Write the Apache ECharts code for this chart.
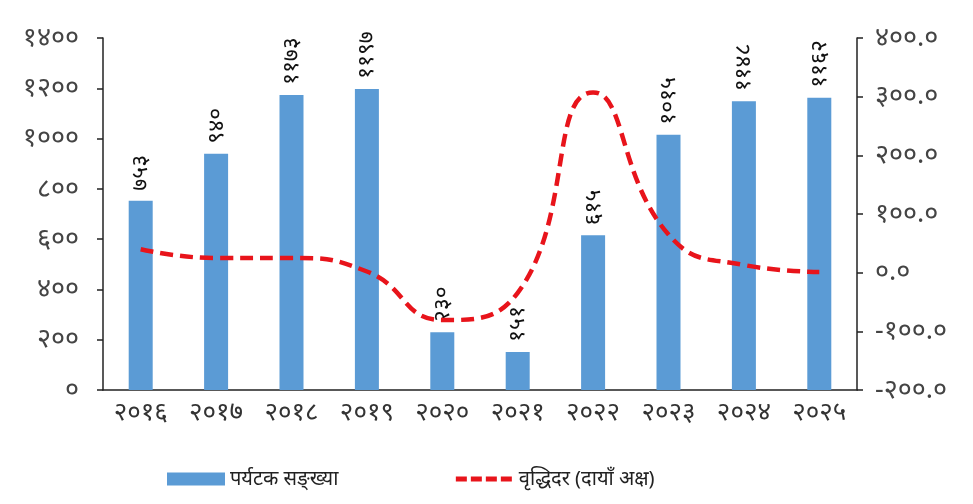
<!DOCTYPE html>
<html>
<head>
<meta charset="utf-8">
<script src="https://cdn.jsdelivr.net/npm/echarts@6/dist/echarts.min.js"></script>
<style>
  html, body { margin: 0; padding: 0; background: #fff; }
  #chart { width: 973px; height: 504px; }
</style>
</head>
<body>
<div id="chart"></div>
<script>
// years (Devanagari numerals)
const years = ['२०१६', '२०१७', '२०१८', '२०१९', '२०२०', '२०२१', '२०२२', '२०२३', '२०२४', '२०२५'];
// tourist count (bars, left axis)
const tourists = [753, 940, 1173, 1197, 230, 151, 615, 1015, 1148, 1162];
// growth rate % (line, right axis)
const growth = [40.0, 24.8, 24.8, 2.0, -80.8, -34.3, 307.3, 65.0, 13.1, 1.2];

const leftTicks = ['०', '२००', '४००', '६००', '८००', '१०००', '१२००', '१४००'];
const rightTicks = ['-२००.०', '-१००.०', '०.०', '१००.०', '२००.०', '३००.०', '४००.०'];

const devaDigits = ['०', '१', '२', '३', '४', '५', '६', '७', '८', '९'];
const toDeva = (n) => String(n).replace(/[0-9]/g, d => devaDigits[+d]);

const fontFamily = "'Noto Sans', 'Noto Sans Devanagari', sans-serif";
const myChart = echarts.init(document.getElementById('chart'));

const option = {
  animation: false,
  textStyle: { fontFamily: fontFamily },
  grid: { left: 103, right: 116, top: 38, bottom: 114 },
  legend: {
    bottom: 10,
    left: 162,
    itemGap: 115,
    itemWidth: 58,
    itemHeight: 13,
    textStyle: { fontSize: 20, color: '#222', fontFamily: fontFamily },
    data: [
      { name: 'पर्यटक सङ्ख्या', icon: 'rect' },
      {
        name: 'वृद्धिदर (दायाँ अक्ष)',
        itemStyle: { opacity: 0 },
        lineStyle: { color: '#e8141b', width: 5, type: [11, 4] }
      }
    ]
  },
  xAxis: {
    type: 'category',
    data: years,
    axisLine: { lineStyle: { color: '#222', width: 1.5 } },
    axisTick: { length: 8, lineStyle: { color: '#222', width: 1.5 } },
    axisLabel: { fontSize: 26, color: '#333', margin: 10 }
  },
  yAxis: [
    {
      type: 'value',
      min: 0,
      max: 1400,
      interval: 200,
      splitLine: { show: false },
      axisLine: { show: true, lineStyle: { color: '#222', width: 1.5 } },
      axisTick: { show: true, length: 6, lineStyle: { color: '#222', width: 1.5 } },
      axisLabel: {
        fontSize: 27,
        color: '#444',
        margin: 24,
        formatter: (v) => leftTicks[v / 200]
      }
    },
    {
      type: 'value',
      min: -200,
      max: 400,
      interval: 100,
      splitLine: { show: false },
      axisLine: { show: true, lineStyle: { color: '#222', width: 1.5 } },
      axisTick: { show: true, length: 6, lineStyle: { color: '#222', width: 1.5 } },
      axisLabel: {
        fontSize: 27,
        color: '#444',
        margin: 18,
        formatter: (v) => rightTicks[(v + 200) / 100]
      }
    }
  ],
  series: [
    {
      name: 'पर्यटक सङ्ख्या',
      type: 'bar',
      data: tourists,
      barWidth: 24,
      itemStyle: { color: '#5b9bd5' },
      label: {
        show: true,
        position: 'top',
        rotate: 90,
        align: 'left',
        verticalAlign: 'middle',
        distance: 10,
        fontSize: 23,
        color: '#111',
        formatter: (p) => toDeva(p.value)
      }
    },
    {
      name: 'वृद्धिदर (दायाँ अक्ष)',
      type: 'line',
      yAxisIndex: 1,
      data: growth,
      smooth: 0.5,
      symbol: 'none',
      lineStyle: { color: '#e8141b', width: 4.5, type: [13, 7] },
      itemStyle: { color: '#e8141b' },
      z: 5
    }
  ]
};

myChart.setOption(option);
</script>
</body>
</html>
